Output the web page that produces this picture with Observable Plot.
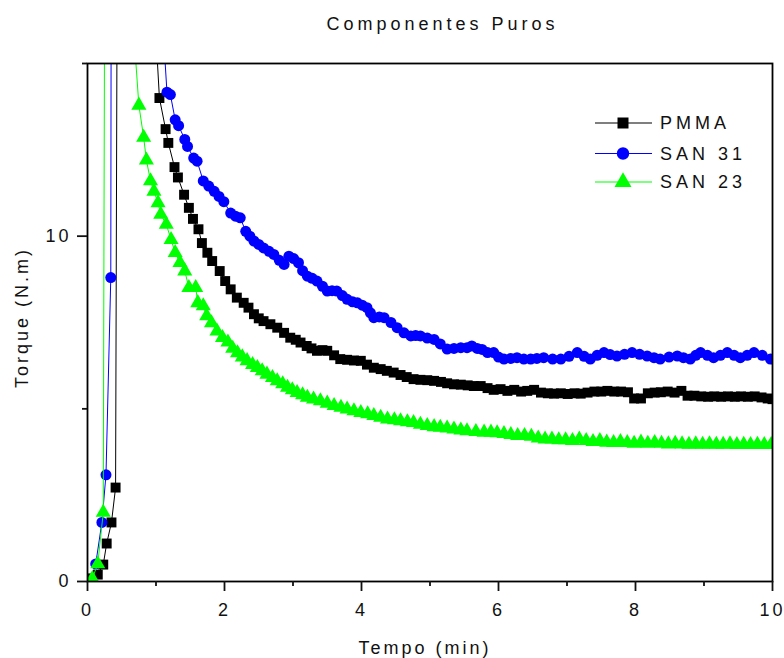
<!DOCTYPE html>
<html>
<head>
<meta charset="utf-8">
<script src="https://cdn.jsdelivr.net/npm/d3@7"></script>
<script src="https://cdn.jsdelivr.net/npm/@observablehq/plot@0.6"></script>
<style>
  body { margin: 0; background: #fff; font-family: "Liberation Sans", Arial, sans-serif; }
  #wrap { position: relative; width: 784px; height: 658px; background: #fff; }
  #title { height: 40px; box-sizing: border-box; padding-top: 14px; padding-left: 101px; line-height: 20px;
           text-align: center; font-size: 18px; letter-spacing: 4px; color: #111; }
  #chart svg text { letter-spacing: 3px; }
  #legend { position: absolute; left: 590px; top: 100px; }
  #legend text { font-size: 18px; letter-spacing: 4px; fill: #111; font-family: "Liberation Sans", Arial, sans-serif; }
</style>
</head>
<body>
<div id="wrap">
  <div id="title">Componentes Puros</div>
  <div id="chart"></div>
  <svg id="legend" width="180" height="100"></svg>
</div>
<script>
// ---- data: [tempo (min), torque (N.m)] ----
const pmma = [[0.07,0.09],[0.15,0.2],[0.23,0.49],[0.28,1.1],[0.35,1.71],[0.41,2.72],[0.46,35],
[1.05,14.0],[1.14,13.1],[1.18,12.7],[1.27,12.0],[1.32,11.7],[1.41,11.2],[1.48,10.82],[1.54,10.5],[1.62,10.2],[1.67,9.8],[1.75,9.52],[1.82,9.28],[1.93,8.99],[2.01,8.7],[2.09,8.46],[2.18,8.22],[2.28,8.07],[2.35,7.93],[2.43,7.74],[2.5,7.62],[2.57,7.54],[2.67,7.45],[2.77,7.35],[2.87,7.2],[2.96,7.06],[3.04,7.0],[3.11,6.92],[3.2,6.82],[3.27,6.75],[3.35,6.68],[3.43,6.7],[3.5,6.68],[3.6,6.55],[3.69,6.44],[3.79,6.42],[3.89,6.4],[3.99,6.39],[4.08,6.28],[4.18,6.19],[4.28,6.15],[4.37,6.1],[4.47,6.05],[4.57,5.98],[4.66,5.92],[4.76,5.86],[4.86,5.84],[4.96,5.83],[5.06,5.81],[5.16,5.78],[5.25,5.74],[5.35,5.71],[5.45,5.7],[5.55,5.68],[5.64,5.66],[5.74,5.66],[5.84,5.6],[5.93,5.55],[6.03,5.57],[6.13,5.52],[6.23,5.55],[6.33,5.5],[6.42,5.52],[6.52,5.55],[6.62,5.47],[6.72,5.45],[6.81,5.44],[6.91,5.45],[7.01,5.43],[7.11,5.45],[7.2,5.44],[7.3,5.47],[7.4,5.5],[7.5,5.5],[7.59,5.52],[7.69,5.5],[7.79,5.5],[7.89,5.48],[7.98,5.3],[8.08,5.3],[8.18,5.45],[8.28,5.47],[8.37,5.48],[8.47,5.5],[8.57,5.47],[8.67,5.52],[8.76,5.38],[8.86,5.38],[8.96,5.36],[9.06,5.35],[9.15,5.36],[9.25,5.35],[9.35,5.36],[9.45,5.35],[9.54,5.36],[9.64,5.35],[9.74,5.36],[9.84,5.33],[9.93,5.3],[10.0,5.28]];

const san31 = [[0.12,0.51],[0.21,1.71],[0.27,3.09],[0.34,8.8],[0.36,40],
[1.16,14.17],[1.21,14.1],[1.28,13.37],[1.33,13.2],[1.42,12.8],[1.46,12.6],[1.55,12.26],[1.6,12.17],[1.69,11.6],[1.77,11.45],[1.85,11.3],[1.92,11.15],[1.99,11.0],[2.09,10.67],[2.16,10.58],[2.23,10.53],[2.31,10.14],[2.37,10.0],[2.43,9.86],[2.5,9.76],[2.57,9.66],[2.65,9.56],[2.72,9.47],[2.8,9.3],[2.87,9.18],[2.94,9.42],[3.01,9.35],[3.08,9.23],[3.14,9.0],[3.21,8.84],[3.28,8.78],[3.35,8.7],[3.43,8.55],[3.5,8.41],[3.57,8.42],[3.64,8.41],[3.72,8.28],[3.79,8.17],[3.87,8.1],[3.94,8.07],[4.01,8.0],[4.08,7.93],[4.13,7.78],[4.18,7.64],[4.26,7.66],[4.33,7.64],[4.43,7.5],[4.52,7.35],[4.62,7.2],[4.72,7.11],[4.79,7.12],[4.86,7.11],[4.96,7.05],[5.06,7.01],[5.15,6.88],[5.25,6.73],[5.35,6.75],[5.45,6.77],[5.54,6.77],[5.61,6.82],[5.69,6.75],[5.76,6.72],[5.84,6.63],[5.93,6.63],[6.0,6.5],[6.08,6.44],[6.18,6.46],[6.27,6.48],[6.37,6.44],[6.47,6.44],[6.56,6.46],[6.66,6.48],[6.79,6.44],[6.91,6.44],[7.03,6.52],[7.15,6.63],[7.25,6.52],[7.34,6.44],[7.44,6.55],[7.54,6.63],[7.63,6.57],[7.73,6.53],[7.84,6.58],[7.95,6.63],[8.06,6.58],[8.17,6.53],[8.27,6.48],[8.36,6.44],[8.49,6.5],[8.61,6.53],[8.7,6.48],[8.8,6.44],[8.88,6.55],[8.95,6.63],[9.05,6.55],[9.14,6.48],[9.24,6.55],[9.34,6.63],[9.44,6.55],[9.53,6.48],[9.63,6.55],[9.73,6.63],[9.85,6.55],[9.97,6.44]];

const san23 = [[0.07,0.08],[0.15,0.51],[0.23,2.0],[0.28,40],[0.6,15.2],[0.7,15.2],
[0.75,13.79],[0.82,12.86],[0.86,12.2],[0.92,11.6],[0.97,11.3],[1.03,10.96],[1.07,10.63],[1.15,10.34],[1.22,9.9],[1.28,9.52],[1.35,9.23],[1.42,8.99],[1.48,8.51],[1.58,8.51],[1.61,8.07],[1.69,7.98],[1.74,7.69],[1.81,7.49],[1.89,7.25],[1.97,7.06],[2.05,6.93],[2.12,6.75],[2.19,6.62],[2.26,6.5],[2.33,6.39],[2.41,6.28],[2.48,6.19],[2.55,6.1],[2.62,6.0],[2.7,5.9],[2.77,5.81],[2.85,5.72],[2.92,5.62],[2.99,5.55],[3.06,5.47],[3.14,5.4],[3.21,5.33],[3.3,5.28],[3.4,5.23],[3.5,5.16],[3.6,5.09],[3.7,5.04],[3.79,4.99],[3.89,4.94],[3.99,4.89],[4.09,4.85],[4.18,4.8],[4.28,4.75],[4.38,4.7],[4.48,4.68],[4.57,4.65],[4.67,4.62],[4.76,4.6],[4.86,4.55],[4.96,4.51],[5.06,4.48],[5.15,4.46],[5.25,4.44],[5.35,4.41],[5.45,4.38],[5.54,4.36],[5.67,4.34],[5.79,4.32],[5.89,4.32],[5.98,4.3],[6.08,4.28],[6.18,4.25],[6.28,4.22],[6.38,4.22],[6.48,4.2],[6.58,4.15],[6.68,4.12],[6.78,4.12],[6.88,4.1],[6.98,4.1],[7.08,4.08],[7.18,4.12],[7.28,4.08],[7.38,4.05],[7.48,4.08],[7.58,4.03],[7.68,4.02],[7.78,4.05],[7.88,4.02],[7.98,4.0],[8.08,4.03],[8.18,4.0],[8.28,4.02],[8.38,4.0],[8.48,3.98],[8.58,4.0],[8.68,3.98],[8.78,3.97],[8.88,3.98],[8.98,3.97],[9.08,3.98],[9.18,3.97],[9.28,3.97],[9.38,3.98],[9.48,3.96],[9.58,3.97],[9.68,3.96],[9.78,3.97],[9.88,3.96],[9.98,3.96]];

const seriesNames = ["PMMA", "SAN 31", "SAN 23"];
const seriesColors = ["#000000", "#0000ff", "#00ff00"];
const seriesSymbols = ["square", "circle", "triangle"];
const seriesRadius = [5.6, 5.5, 5.6];
const xTicks = [0, 2, 4, 6, 8, 10];
const xMinorTicks = [1, 3, 5, 7, 9];
const yTicks = [0, 10];
const yMinorTicks = [5, 15];
const xLabel = "Tempo (min)";
const yLabel = "Torque (N.m)";

const seriesData = [pmma, san31, san23];
const series = seriesNames.map((name, i) => ({
  name, color: seriesColors[i], symbol: seriesSymbols[i], r: seriesRadius[i],
  data: seriesData[i].map(([t, v]) => ({t, v}))
}));

const marks = [];
for (const s of series) {
  marks.push(Plot.line(s.data, {x: "t", y: "v", stroke: s.color, strokeWidth: 1, clip: true}));
  marks.push(Plot.dot(s.data, {x: "t", y: "v", symbol: () => s.symbol, r: s.r, fill: s.color, stroke: "none", clip: true}));
}

const chart = Plot.plot({
  width: 784,
  height: 618,
  marginLeft: 87,
  marginRight: 12,
  marginTop: 23,
  marginBottom: 77,
  style: {fontFamily: "'Liberation Sans', Arial, sans-serif", fontSize: "18px", color: "#111", background: "#fff", overflow: "visible"},
  x: {domain: [0, 10]},
  y: {domain: [0, 15]},
  symbol: {type: "identity"},
  marks: [
    ...marks,
    Plot.frame({stroke: "#000", strokeWidth: 1.8}),
    Plot.axisX(xTicks, {tickSize: 10, tickPadding: 12, strokeWidth: 1.8, label: null, fontSize: 18}),
    Plot.axisX(xMinorTicks, {tickSize: 5, tickFormat: () => "", strokeWidth: 1.8, label: null}),
    Plot.axisY(yTicks, {tickSize: 10, tickPadding: 6, strokeWidth: 1.8, label: null, fontSize: 18}),
    Plot.axisY(yMinorTicks, {tickSize: 5, tickFormat: () => "", strokeWidth: 1.8, label: null}),
    Plot.text([xLabel], {frameAnchor: "bottom", dy: 72, dx: -5, text: d => d, fontSize: 18, fill: "#111"}),
    Plot.text([yLabel], {frameAnchor: "left", dx: -65, dy: -5, rotate: -90, textAnchor: "middle", lineAnchor: "middle", text: d => d, fontSize: 18, fill: "#111"})
  ]
});
document.getElementById("chart").appendChild(chart);

// legend
const leg = d3.select("#legend");
const rowY = [23, 53.5, 82];
series.forEach((s, i) => {
  const g = leg.append("g").attr("transform", `translate(0,${rowY[i]})`);
  g.append("line").attr("x1", 5).attr("x2", 62).attr("y1", 0).attr("y2", 0).attr("stroke", s.color).attr("stroke-width", 1.2);
  const symType = s.symbol === "square" ? d3.symbolSquare : s.symbol === "circle" ? d3.symbolCircle : d3.symbolTriangle;
  const size = s.symbol === "triangle" ? 125 : 121;
  g.append("path").attr("transform", "translate(33,0)")
    .attr("d", d3.symbol(symType, size)()).attr("fill", s.color);
  g.append("text").attr("x", 70).attr("y", 0).attr("dy", "0.35em").text(s.name);
});
</script>
</body>
</html>
